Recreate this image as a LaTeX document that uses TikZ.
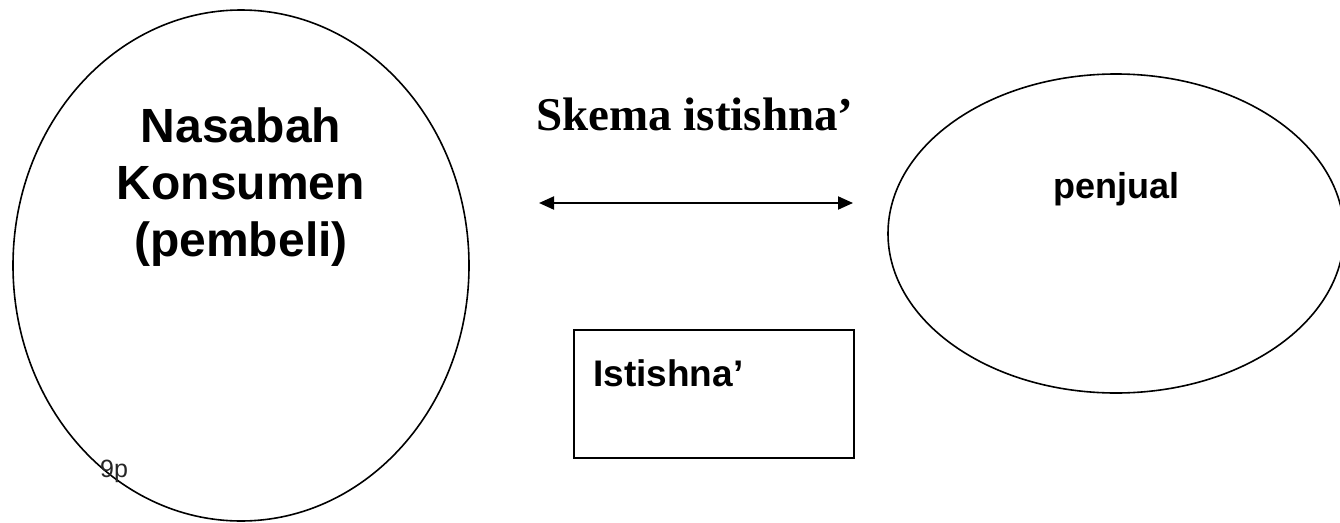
\documentclass[tikz,border=0pt]{standalone}
\usepackage{fontspec}
\setmainfont{Liberation Sans}
\newfontfamily\titleserif{Liberation Serif}
\usetikzlibrary{shapes.geometric,arrows.meta}

\tikzset{
  party/.style={draw=black, ellipse, line width=1.6pt, inner sep=0pt},
  contractbox/.style={draw=black, rectangle, line width=2pt, inner sep=0pt},
  link/.style={line width=2pt,
    {Triangle[length=15pt,width=13pt]}-{Triangle[length=15pt,width=13pt]}},
  boldlabel/.style={font=\bfseries\fontsize{#1}{1.18*#1}\selectfont, inner sep=0pt}
}

\begin{document}
\begin{tikzpicture}[x=1pt, y=-1pt]
  \useasboundingbox (0,0) rectangle (1340,522);

  % the two parties
  \node[party, minimum width=456pt, minimum height=511pt] (buyer) at (241,265.5) {};
  \node[party, minimum width=456pt, minimum height=319pt] (seller) at (1116,233.5) {};

  % party names
  \node[font=\bfseries\fontsize{48}{57}\selectfont, align=center, inner sep=0pt]
    (buyername) at (241,187) {Nasabah\\Konsumen\\(pembeli)};
  \node[font=\bfseries\fontsize{36}{43}\selectfont, anchor=base, inner sep=0pt]
    (sellername) at (1116,198) {penjual};

  % scheme title
  \node[font=\titleserif\bfseries\fontsize{47}{56}\selectfont, anchor=base, inner sep=0pt]
    (title) at (695,130.5) {Skema istishna’};

  % two-way exchange
  \coordinate (linkL) at (539,203);
  \coordinate (linkR) at (853,203);
  \draw[link] (linkL) -- (linkR);

  % contract box
  \node[contractbox, minimum width=280pt, minimum height=128pt] (contract) at (713.5,393.5) {};
  \node[font=\bfseries\fontsize{37}{44}\selectfont, anchor=base west, inner sep=0pt]
    (contractname) at (593,386) {Istishna’};

  % page mark
  \node[font=\fontsize{25}{30}\selectfont, anchor=base west, inner sep=0pt, text=black!85]
    (pagemark) at (100,477.5) {9p};
\end{tikzpicture}
\end{document}
